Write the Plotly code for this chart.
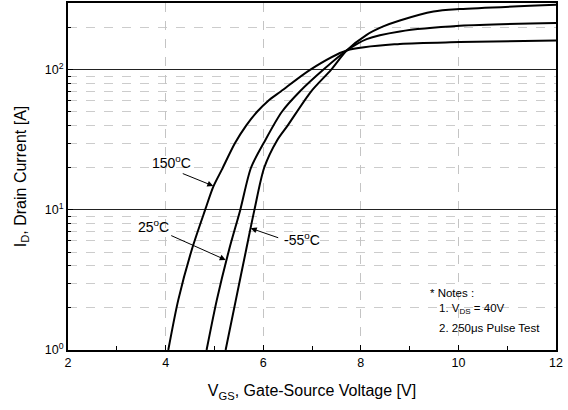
import plotly.graph_objects as go

# Data
vgs_150 = [4.055, 4.26, 4.535, 4.81, 4.98, 5.15, 5.42, 5.65, 5.87, 6.10, 6.36, 6.96, 7.71, 8.8, 10.03, 12.0]
id_150 = [1.0, 2.28, 5.18, 10.0, 14.7, 19.3, 29.9, 40, 50, 60, 70, 100, 137.3, 153, 157.7, 162]

vgs_25 = [4.84, 5.05, 5.30, 5.53, 5.75, 6.01, 6.38, 6.75, 7.23, 7.71, 8.12, 8.8, 10.03, 12.0]
id_25 = [1.0, 2.28, 5.18, 10.0, 20, 30, 50, 70, 100, 137.3, 165.7, 187.7, 206, 215.7]

vgs_m55 = [5.23, 5.44, 5.65, 5.82, 6.02, 6.29, 6.50, 6.98, 7.39, 7.71, 8.12, 8.46, 8.8, 9.49, 10.03, 12.0]
id_m55 = [1.0, 2.28, 5.18, 10.0, 20, 31.6, 40, 70, 100, 137.3, 177.8, 204, 225, 260.8, 271.6, 291]

x_ticks = [2, 4, 6, 8, 10, 12]
x_minor = [3, 5, 7, 9, 11]
y_ticks = [1, 10, 100]
y_ticktext = ["10<sup>0</sup>", "10<sup>1</sup>", "10<sup>2</sup>"]
y_minor = [2, 3, 4, 5, 6, 7, 8, 9, 20, 30, 40, 50, 60, 70, 80, 90, 200, 300]

FONT = "Liberation Sans, Arial, sans-serif"

fig = go.Figure()
for xs, ys in [(vgs_150, id_150), (vgs_25, id_25), (vgs_m55, id_m55)]:
    fig.add_trace(go.Scatter(x=xs, y=ys, mode="lines",
                             line=dict(color="black", width=2, shape="spline", smoothing=0.8),
                             showlegend=False, hoverinfo="skip"))

fig.update_layout(
    width=568, height=410,
    margin=dict(l=68, r=12, t=3, b=60, autoexpand=False),
    paper_bgcolor="white", plot_bgcolor="white",
    font=dict(family=FONT, size=13, color="black"),
)

fig.update_xaxes(
    range=[2, 12], tickvals=x_ticks, ticks="inside", ticklen=5, tickcolor="black",
    showline=True, linecolor="black", linewidth=2, mirror=True, automargin=False,
    showgrid=True, gridcolor="#c4c4c4", griddash="dash", gridwidth=1,
    zeroline=False, tickfont=dict(size=12.5, family=FONT),
    minor=dict(tickvals=x_minor, ticks="inside", ticklen=4, tickcolor="black", showgrid=False),
    title=dict(text="V<sub>GS</sub>, Gate-Source Voltage [V]", font=dict(size=16, family=FONT), standoff=16),
)

fig.update_yaxes(
    type="log", range=[0, 2.477], tickvals=y_ticks, ticktext=y_ticktext,
    ticks="inside", ticklen=5, tickcolor="black",
    showline=True, linecolor="black", linewidth=2, mirror=True, automargin=False,
    showgrid=True, gridcolor="#222222", gridwidth=1,
    zeroline=False, tickfont=dict(size=12.5, family=FONT),
    minor=dict(tickvals=y_minor, ticks="inside", ticklen=3, tickcolor="black",
               showgrid=True, gridcolor="#cccccc", griddash="dash", gridwidth=1),
    title=dict(text="I<sub>D</sub>, Drain Current [A]", font=dict(size=16, family=FONT), standoff=14),
)

# labels
labels = [
    (4.12, 1.341, "150<sup>o</sup>C"),
    (3.75, 0.886, "25<sup>o</sup>C"),
    (6.8, 0.79, "-55<sup>o</sup>C"),
]
for x, ly, t in labels:
    fig.add_annotation(x=x, y=ly, text=t, showarrow=False,
                       font=dict(size=14, family=FONT))

# arrows
arrows = [
    (4.977, 1.171, -32, -13),
    (5.232, 0.643, -56, -25),
    (5.744, 0.869, 29, 10),
]
for x, ly, ax, ay in arrows:
    fig.add_annotation(x=x, y=ly, text="", showarrow=True, ax=ax, ay=ay,
                       arrowhead=2, arrowsize=1.2, arrowwidth=1, arrowcolor="black")

fig.add_annotation(x=9.38, y=0.405, text="* Notes :", showarrow=False, xanchor="left",
                   font=dict(size=11.5, family=FONT))
fig.add_annotation(x=9.555, y=0.29, text="1. V<sub>DS</sub> = 40V", showarrow=False, xanchor="left",
                   font=dict(size=11.5, family=FONT))
fig.add_annotation(x=9.555, y=0.155, text="2. 250\u03bcs Pulse Test", showarrow=False, xanchor="left",
                   font=dict(size=11.5, family=FONT))

fig.write_html("out.html", config={"displayModeBar": False},
               post_script="document.body.style.margin='0';document.body.style.padding='0';")
